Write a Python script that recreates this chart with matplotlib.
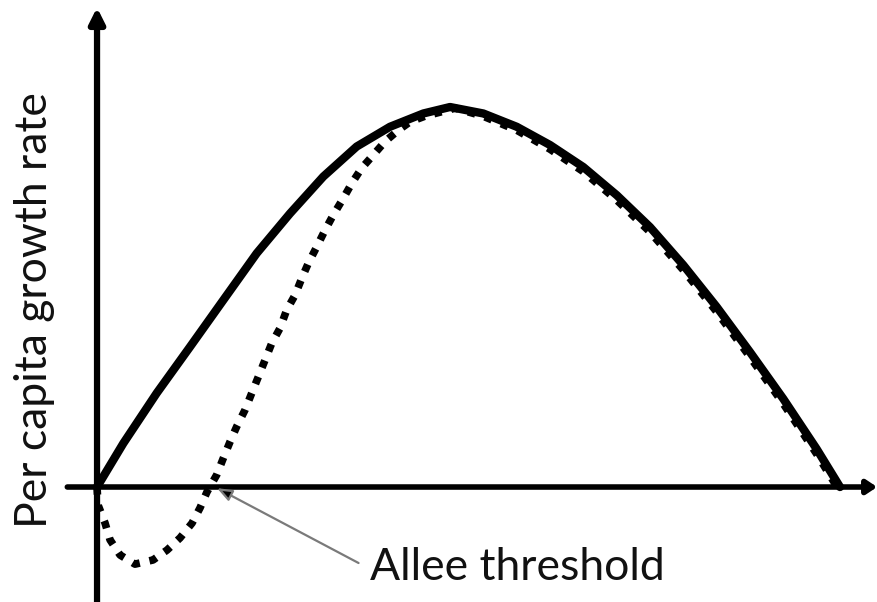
import matplotlib
matplotlib.use("Agg")
import matplotlib.pyplot as plt

# population size (K = 100) and per capita growth rate (peak = 1)
n_solid = [0, 3.54, 8.03, 12.52, 17.00, 21.49, 25.98, 30.46, 34.95, 39.43, 43.92,
           47.51, 51.99, 56.49, 60.97, 65.45, 69.95, 74.43, 78.91, 83.40, 87.89,
           92.37, 96.86, 100]
r_solid = [0, 0.115, 0.247, 0.369, 0.492, 0.615, 0.720, 0.817, 0.896, 0.948, 0.983,
           1.0, 0.983, 0.948, 0.900, 0.842, 0.768, 0.684, 0.584, 0.474, 0.355,
           0.232, 0.100, 0]

# with an Allee effect
n_allee = [0, 0.13, 1.08, 1.75, 3.10, 5.11, 7.54, 9.42, 11.17, 12.79, 13.86, 14.80,
           16.11, 17.00, 17.90, 18.80, 19.92, 20.82, 21.71, 22.61, 23.51, 24.63,
           25.53, 26.65, 27.55, 28.44, 29.57, 30.69, 31.80, 33.15, 34.28, 35.61,
           37.19, 38.76, 40.55, 42.13, 44.15, 48.2,
           51.95, 56.49, 60.97, 65.45, 69.95, 74.43, 78.91, 83.40, 87.89, 92.37,
           96.86, 99.6]
r_allee = [0, -0.047, -0.095, -0.139, -0.179, -0.203, -0.192, -0.166, -0.134, -0.095,
           -0.055, -0.013, 0.032, 0.076, 0.119, 0.159, 0.203, 0.247, 0.290, 0.334,
           0.378, 0.418, 0.466, 0.505, 0.549, 0.589, 0.632, 0.676, 0.716, 0.760,
           0.799, 0.839, 0.874, 0.909, 0.939, 0.961, 0.976, 0.997,
           0.976, 0.939, 0.889, 0.830, 0.755, 0.671, 0.571, 0.461, 0.342, 0.219,
           0.087, 0]

threshold = 16.15
ylabel = "Per capita growth rate"
label = "Allee threshold"

plt.rcParams['font.family'] = ['Lato', 'DejaVu Sans']

fig = plt.figure(figsize=(8.77, 6.02), dpi=100)
ax = fig.add_axes([0, 0, 1, 1])
ax.set_xlim(-13.06, 104.98)
ax.set_ylim(-0.3026, 1.2816)
ax.axis("off")

# axes with arrow heads
ax.annotate("", xy=(0, 1.262), xytext=(0, -0.31),
            arrowprops=dict(arrowstyle="-|>,head_length=0.9,head_width=0.45",
                            lw=4.5, color="black", shrinkA=0, shrinkB=0))
ax.annotate("", xy=(105, 0), xytext=(-4.0, 0),
            arrowprops=dict(arrowstyle="-|>,head_length=0.6,head_width=0.4",
                            lw=4, color="black", shrinkA=0, shrinkB=0))

ax.plot(n_allee, r_allee, color="black", lw=5.5, dashes=(1.0, 1.3),
        dash_capstyle="butt", zorder=3)
ax.plot(n_solid, r_solid, color="black", lw=6, solid_capstyle="round",
        solid_joinstyle="round", zorder=4)

ax.annotate("", xy=(threshold, -0.003), xytext=(35.2, -0.20),
            arrowprops=dict(arrowstyle="-|>,head_length=0.9,head_width=0.35",
                            lw=1.6, color="#7a7a7a", ec="#7a7a7a", fc="black",
                            shrinkA=0, shrinkB=0), zorder=5)

ax.text(36.74, -0.245, label, fontsize=32, ha="left", va="baseline", color="#111111")
ax.text(-8.4, 0.466, ylabel, fontsize=32, rotation=90, ha="center", va="center",
        color="#111111")

fig.savefig("out.png", dpi=100)
